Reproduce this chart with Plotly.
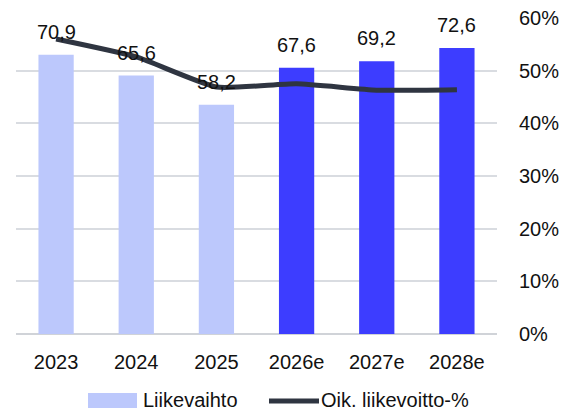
import plotly.graph_objects as go

years = ["2023", "2024", "2025", "2026e", "2027e", "2028e"]
revenue = [70.9, 65.6, 58.2, 67.6, 69.2, 72.6]
margin_pct = [56.0, 52.6, 46.9, 47.5, 46.3, 46.4]
revenue_labels = ["70,9", "65,6", "58,2", "67,6", "69,2", "72,6"]
pct_ticks = [0, 10, 20, 30, 40, 50, 60]
pct_tick_text = ["0%", "10%", "20%", "30%", "40%", "50%", "60%"]

LIGHT = "#BCC8FC"
DARK = "#3D3DFF"
LINE = "#2F3541"
FONT = "Liberation Sans"

bar_colors = [DARK if y.endswith("e") else LIGHT for y in years]

fig = go.Figure()
fig.add_trace(go.Bar(x=years, y=revenue, marker=dict(color=bar_colors, line=dict(width=0)),
                     yaxis="y", showlegend=False, hoverinfo="skip"))
fig.add_trace(go.Scatter(x=years, y=margin_pct, mode="lines", yaxis="y2",
                         line=dict(color=LINE, width=5, shape="spline", smoothing=0.5),
                         showlegend=False, hoverinfo="skip"))

annotations = []
for i, (v, t) in enumerate(zip(revenue, revenue_labels)):
    annotations.append(dict(x=i, y=v, xref="x", yref="y", text=t, showarrow=False,
                            yanchor="middle", yshift=23, font=dict(size=20, color="#111111", family=FONT)))

# custom legend (pixel positions converted to paper coordinates)
L, R, T, B = 16, 67, 18, 78
W, H = 564, 412
pw, ph = W - L - R, H - T - B

def px(x):
    return (x - L) / pw

def py(y):
    return (H - B - y) / ph

shapes = [
    dict(type="rect", xref="paper", yref="paper", x0=px(88), x1=px(137), y0=py(408), y1=py(393),
         fillcolor=LIGHT, line=dict(width=0)),
    dict(type="line", xref="paper", yref="paper", x0=px(269), x1=px(319), y0=py(401), y1=py(401),
         line=dict(color=LINE, width=5)),
]
annotations.append(dict(xref="paper", yref="paper", x=px(141), y=py(399.5), text="Liikevaihto",
                        showarrow=False, xanchor="left", yanchor="middle",
                        font=dict(size=20, color="#111111", family=FONT)))
annotations.append(dict(xref="paper", yref="paper", x=px(319), y=py(399.5), text="Oik. liikevoitto-%",
                        showarrow=False, xanchor="left", yanchor="middle",
                        font=dict(size=20, color="#111111", family=FONT)))

fig.update_layout(
    width=W, height=H,
    margin=dict(l=L, r=R, t=T, b=B, autoexpand=False),
    paper_bgcolor="white", plot_bgcolor="white",
    bargap=0.56,
    font=dict(family=FONT, size=20, color="#111111"),
    xaxis=dict(type="category", range=[-0.5, 5.5], autorange=False, showgrid=False,
               showline=False, zeroline=False, automargin=False,
               ticks="outside", ticklen=10, tickcolor="rgba(0,0,0,0)",
               tickfont=dict(size=20, family=FONT, color="#111111")),
    yaxis=dict(range=[0, 80.2], visible=False, showgrid=False),
    yaxis2=dict(range=[0, 60], overlaying="y", side="right", tickvals=pct_ticks,
                ticktext=pct_tick_text, showgrid=True, gridcolor="#D9DCE1", gridwidth=1.5,
                zeroline=True, zerolinecolor="#D0D3D8", zerolinewidth=1.5, showline=False,
                automargin=False,
                ticks="outside", ticklen=17, tickcolor="rgba(0,0,0,0)",
                tickfont=dict(size=20, family=FONT, color="#111111")),
    annotations=annotations,
    shapes=shapes,
    showlegend=False,
)

fig.write_html("out.html", config={"displayModeBar": False},
               post_script="document.body.style.margin='0';")
